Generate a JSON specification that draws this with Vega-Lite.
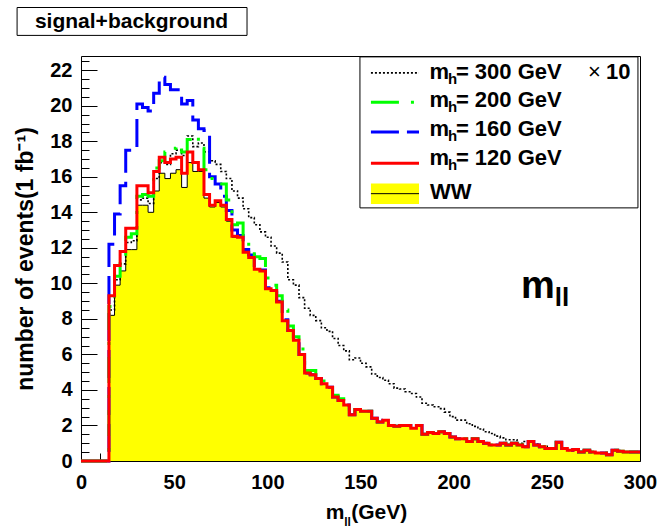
{
  "$schema": "https://vega.github.io/schema/vega-lite/v6.json",
  "width": 559,
  "height": 405,
  "autosize": {"type": "none"},
  "padding": {"left": 81, "top": 56, "right": 30, "bottom": 68},
  "background": "white",
  "config": {"view": {"stroke": "black", "strokeWidth": 1}, "font": "Liberation Sans"},
  "resolve": {"axis": {"x": "independent", "y": "independent"}},
  "data": {"values": [
    {"x": 0, "ww": 0, "h120": 0, "h160": 0, "h200": 0, "h300": 0},
    {"x": 3, "ww": 0, "h120": 0, "h160": 0, "h200": 0, "h300": 0},
    {"x": 6, "ww": 0, "h120": 0, "h160": 0, "h200": 0, "h300": 0},
    {"x": 9, "ww": 0, "h120": 0, "h160": 0, "h200": 0, "h300": 0},
    {"x": 12, "ww": 0, "h120": 0, "h160": 0, "h200": 0, "h300": 0},
    {"x": 15, "ww": 8.2, "h120": 9.3, "h160": 12.2, "h200": 8.7, "h300": 8.5},
    {"x": 18, "ww": 9.9, "h120": 11.0, "h160": 13.9, "h200": 10.4, "h300": 10.2},
    {"x": 21, "ww": 10.7, "h120": 11.8, "h160": 15.5, "h200": 11.3, "h300": 11.1},
    {"x": 24, "ww": 11.9, "h120": 13.1, "h160": 17.5, "h200": 12.6, "h300": 12.3},
    {"x": 27, "ww": 11.9, "h120": 13.1, "h160": 17.5, "h200": 12.8, "h300": 12.4},
    {"x": 30, "ww": 14.4, "h120": 15.5, "h160": 20.1, "h200": 14.9, "h300": 14.7},
    {"x": 33, "ww": 14.4, "h120": 15.5, "h160": 19.9, "h200": 15.0, "h300": 14.8},
    {"x": 36, "ww": 14.0, "h120": 15.1, "h160": 19.7, "h200": 14.9, "h300": 14.5},
    {"x": 39, "ww": 15.2, "h120": 16.3, "h160": 20.7, "h200": 16.5, "h300": 15.9},
    {"x": 42, "ww": 16.2, "h120": 17.1, "h160": 21.6, "h200": 16.9, "h300": 16.8},
    {"x": 45, "ww": 15.9, "h120": 16.8, "h160": 21.2, "h200": 17.4, "h300": 16.7},
    {"x": 48, "ww": 16.2, "h120": 17.0, "h160": 20.9, "h200": 17.6, "h300": 17.3},
    {"x": 51, "ww": 16.4, "h120": 17.1, "h160": 20.9, "h200": 17.8, "h300": 17.5},
    {"x": 54, "ww": 15.4, "h120": 16.2, "h160": 20.1, "h200": 17.4, "h300": 17.2},
    {"x": 57, "ww": 16.8, "h120": 17.4, "h160": 20.3, "h200": 18.1, "h300": 18.3},
    {"x": 60, "ww": 16.3, "h120": 16.8, "h160": 19.2, "h200": 18.3, "h300": 17.7},
    {"x": 63, "ww": 16.3, "h120": 16.4, "h160": 18.7, "h200": 17.6, "h300": 17.9},
    {"x": 66, "ww": 14.8, "h120": 15.0, "h160": 18.6, "h200": 16.4, "h300": 17.4},
    {"x": 69, "ww": 14.3, "h120": 14.4, "h160": 16.0, "h200": 15.9, "h300": 16.9},
    {"x": 72, "ww": 14.55, "h120": 14.65, "h160": 15.6, "h200": 15.6, "h300": 16.7},
    {"x": 75, "ww": 14.3, "h120": 14.4, "h160": 14.9, "h200": 15.6, "h300": 16.3},
    {"x": 78, "ww": 13.5, "h120": 13.6, "h160": 14.1, "h200": 14.7, "h300": 15.9},
    {"x": 81, "ww": 12.6, "h120": 12.65, "h160": 13.0, "h200": 13.3, "h300": 15.2},
    {"x": 84, "ww": 12.6, "h120": 12.6, "h160": 12.7, "h200": 13.4, "h300": 14.8},
    {"x": 87, "ww": 11.75, "h120": 11.75, "h160": 11.9, "h200": 12.4, "h300": 14.2},
    {"x": 90, "ww": 11.45, "h120": 11.45, "h160": 11.6, "h200": 11.9, "h300": 13.7},
    {"x": 93, "ww": 10.8, "h120": 10.8, "h160": 10.9, "h200": 11.5, "h300": 13.3},
    {"x": 96, "ww": 10.7, "h120": 10.7, "h160": 10.75, "h200": 11.4, "h300": 12.9},
    {"x": 99, "ww": 9.7, "h120": 9.7, "h160": 9.75, "h200": 10.3, "h300": 12.6},
    {"x": 102, "ww": 9.6, "h120": 9.6, "h160": 9.65, "h200": 9.9, "h300": 12.1},
    {"x": 105, "ww": 8.95, "h120": 8.95, "h160": 9.0, "h200": 9.3, "h300": 11.7},
    {"x": 108, "ww": 7.9, "h120": 7.9, "h160": 7.95, "h200": 8.5, "h300": 11.2},
    {"x": 111, "ww": 7.35, "h120": 7.35, "h160": 7.35, "h200": 7.6, "h300": 10.2},
    {"x": 114, "ww": 6.8, "h120": 6.8, "h160": 6.8, "h200": 7.0, "h300": 9.9},
    {"x": 117, "ww": 6.0, "h120": 6.0, "h160": 6.0, "h200": 6.3, "h300": 9.2},
    {"x": 120, "ww": 4.95, "h120": 4.95, "h160": 4.95, "h200": 5.1, "h300": 8.6},
    {"x": 123, "ww": 4.85, "h120": 4.85, "h160": 4.85, "h200": 5.1, "h300": 8.2},
    {"x": 126, "ww": 4.65, "h120": 4.65, "h160": 4.65, "h200": 4.8, "h300": 7.9},
    {"x": 129, "ww": 4.35, "h120": 4.35, "h160": 4.35, "h200": 4.5, "h300": 7.5},
    {"x": 132, "ww": 4.15, "h120": 4.15, "h160": 4.15, "h200": 4.3, "h300": 7.3},
    {"x": 135, "ww": 3.6, "h120": 3.6, "h160": 3.6, "h200": 3.7, "h300": 6.9},
    {"x": 138, "ww": 3.4, "h120": 3.4, "h160": 3.4, "h200": 3.5, "h300": 6.5},
    {"x": 141, "ww": 3.15, "h120": 3.15, "h160": 3.15, "h200": 3.2, "h300": 6.2},
    {"x": 144, "ww": 2.6, "h120": 2.6, "h160": 2.6, "h200": 2.6, "h300": 5.7},
    {"x": 147, "ww": 2.9, "h120": 2.9, "h160": 2.9, "h200": 2.9, "h300": 5.8},
    {"x": 150, "ww": 2.8, "h120": 2.8, "h160": 2.8, "h200": 2.8, "h300": 5.5},
    {"x": 153, "ww": 2.8, "h120": 2.8, "h160": 2.8, "h200": 2.8, "h300": 5.3},
    {"x": 156, "ww": 2.4, "h120": 2.4, "h160": 2.4, "h200": 2.4, "h300": 4.9},
    {"x": 159, "ww": 2.2, "h120": 2.2, "h160": 2.2, "h200": 2.2, "h300": 4.7},
    {"x": 162, "ww": 2.3, "h120": 2.3, "h160": 2.3, "h200": 2.3, "h300": 4.55},
    {"x": 165, "ww": 2.0, "h120": 2.0, "h160": 2.0, "h200": 2.0, "h300": 4.35},
    {"x": 168, "ww": 1.95, "h120": 1.95, "h160": 1.95, "h200": 1.95, "h300": 4.1},
    {"x": 171, "ww": 2.0, "h120": 2.0, "h160": 2.0, "h200": 2.0, "h300": 4.05},
    {"x": 174, "ww": 2.0, "h120": 2.0, "h160": 2.0, "h200": 2.0, "h300": 3.9},
    {"x": 177, "ww": 1.85, "h120": 1.85, "h160": 1.85, "h200": 1.85, "h300": 3.8},
    {"x": 180, "ww": 2.0, "h120": 2.0, "h160": 2.0, "h200": 2.0, "h300": 3.6},
    {"x": 183, "ww": 1.5, "h120": 1.5, "h160": 1.5, "h200": 1.5, "h300": 3.25},
    {"x": 186, "ww": 1.6, "h120": 1.6, "h160": 1.6, "h200": 1.6, "h300": 3.15},
    {"x": 189, "ww": 1.55, "h120": 1.55, "h160": 1.55, "h200": 1.55, "h300": 3.05},
    {"x": 192, "ww": 1.65, "h120": 1.65, "h160": 1.65, "h200": 1.65, "h300": 2.95},
    {"x": 195, "ww": 1.55, "h120": 1.55, "h160": 1.55, "h200": 1.55, "h300": 2.75},
    {"x": 198, "ww": 1.35, "h120": 1.35, "h160": 1.35, "h200": 1.35, "h300": 2.5},
    {"x": 201, "ww": 1.25, "h120": 1.25, "h160": 1.25, "h200": 1.25, "h300": 2.3},
    {"x": 204, "ww": 1.25, "h120": 1.25, "h160": 1.25, "h200": 1.25, "h300": 2.3},
    {"x": 207, "ww": 1.1, "h120": 1.1, "h160": 1.1, "h200": 1.1, "h300": 2.1},
    {"x": 210, "ww": 1.25, "h120": 1.25, "h160": 1.25, "h200": 1.25, "h300": 1.95},
    {"x": 213, "ww": 1.1, "h120": 1.1, "h160": 1.1, "h200": 1.1, "h300": 1.8},
    {"x": 216, "ww": 1.0, "h120": 1.0, "h160": 1.0, "h200": 1.0, "h300": 1.65},
    {"x": 219, "ww": 0.9, "h120": 0.9, "h160": 0.9, "h200": 0.9, "h300": 1.55},
    {"x": 222, "ww": 0.9, "h120": 0.9, "h160": 0.9, "h200": 0.9, "h300": 1.4},
    {"x": 225, "ww": 1.0, "h120": 1.0, "h160": 1.0, "h200": 1.0, "h300": 1.3},
    {"x": 228, "ww": 0.9, "h120": 0.9, "h160": 0.9, "h200": 0.9, "h300": 1.2},
    {"x": 231, "ww": 1.0, "h120": 1.0, "h160": 1.0, "h200": 1.0, "h300": 1.2},
    {"x": 234, "ww": 0.9, "h120": 0.9, "h160": 0.9, "h200": 0.9, "h300": 1.0},
    {"x": 237, "ww": 0.8, "h120": 0.8, "h160": 0.8, "h200": 0.8, "h300": 1.1},
    {"x": 240, "ww": 1.1, "h120": 1.1, "h160": 1.1, "h200": 1.1, "h300": 1.1},
    {"x": 243, "ww": 0.9, "h120": 0.9, "h160": 0.9, "h200": 0.9, "h300": 0.95},
    {"x": 246, "ww": 0.8, "h120": 0.8, "h160": 0.8, "h200": 0.8, "h300": 0.85},
    {"x": 249, "ww": 0.7, "h120": 0.7, "h160": 0.7, "h200": 0.7, "h300": 0.75},
    {"x": 252, "ww": 0.7, "h120": 0.7, "h160": 0.7, "h200": 0.7, "h300": 0.75},
    {"x": 255, "ww": 1.05, "h120": 1.05, "h160": 1.05, "h200": 1.05, "h300": 1.05},
    {"x": 258, "ww": 0.7, "h120": 0.7, "h160": 0.7, "h200": 0.7, "h300": 0.7},
    {"x": 261, "ww": 0.6, "h120": 0.6, "h160": 0.6, "h200": 0.6, "h300": 0.6},
    {"x": 264, "ww": 0.65, "h120": 0.65, "h160": 0.65, "h200": 0.65, "h300": 0.65},
    {"x": 267, "ww": 0.5, "h120": 0.5, "h160": 0.5, "h200": 0.5, "h300": 0.5},
    {"x": 270, "ww": 0.6, "h120": 0.6, "h160": 0.6, "h200": 0.6, "h300": 0.6},
    {"x": 273, "ww": 0.5, "h120": 0.5, "h160": 0.5, "h200": 0.5, "h300": 0.5},
    {"x": 276, "ww": 0.45, "h120": 0.45, "h160": 0.45, "h200": 0.45, "h300": 0.45},
    {"x": 279, "ww": 0.45, "h120": 0.45, "h160": 0.45, "h200": 0.45, "h300": 0.45},
    {"x": 282, "ww": 0.35, "h120": 0.35, "h160": 0.35, "h200": 0.35, "h300": 0.35},
    {"x": 285, "ww": 0.6, "h120": 0.6, "h160": 0.6, "h200": 0.6, "h300": 0.6},
    {"x": 288, "ww": 0.55, "h120": 0.55, "h160": 0.55, "h200": 0.55, "h300": 0.55},
    {"x": 291, "ww": 0.5, "h120": 0.5, "h160": 0.5, "h200": 0.5, "h300": 0.5},
    {"x": 294, "ww": 0.5, "h120": 0.5, "h160": 0.5, "h200": 0.5, "h300": 0.5},
    {"x": 297, "ww": 0.5, "h120": 0.5, "h160": 0.5, "h200": 0.5, "h300": 0.5},
    {"x": 300, "ww": 0.5, "h120": 0.5, "h160": 0.5, "h200": 0.5, "h300": 0.5}
  ]},
  "layer": [
    {
      "mark": {"type": "area", "interpolate": "step-after", "color": "#ffff00"},
      "encoding": {
        "x": {"field": "x", "type": "quantitative",
          "scale": {"domain": [0, 300], "nice": false, "zero": false},
          "axis": {
            "orient": "bottom",
            "values": [0, 50, 100, 150, 200, 250, 300],
            "tickSize": -16, "tickColor": "black",
            "labelOverlap": false, "labelFlush": false, "labelPadding": 27,
            "labelFontSize": 20, "labelFontWeight": "bold", "labelColor": "black", "labelFont": "Liberation Sans",
            "domain": false, "grid": false, "title": null
          }},
        "y": {"field": "ww", "type": "quantitative",
          "scale": {"domain": [0, 22.8], "nice": false, "zero": false},
          "axis": {
            "orient": "left",
            "values": [0, 2, 4, 6, 8, 10, 12, 14, 16, 18, 20, 22],
            "tickSize": -16, "tickColor": "black",
            "labelOverlap": false, "labelFlush": false, "labelPadding": 25,
            "labelFontSize": 20, "labelFontWeight": "bold", "labelColor": "black", "labelFont": "Liberation Sans",
            "domain": false, "grid": false,
            "title": "number of events(1 fb⁻¹)", "titleFontSize": 23, "titleFontWeight": "bold",
            "titleColor": "black", "titleFont": "Liberation Sans", "titlePadding": 12
          }}
      }
    },
    {
      "mark": {"type": "line", "interpolate": "step-after", "color": "black", "strokeWidth": 1},
      "encoding": {
        "x": {"field": "x", "type": "quantitative",
          "axis": {"orient": "bottom", "values": [10,20,30,40,60,70,80,90,110,120,130,140,160,170,180,190,210,220,230,240,260,270,280,290],
                   "tickSize": -8, "tickColor": "black", "labels": false, "domain": false, "grid": false, "title": null}},
        "y": {"field": "ww", "type": "quantitative",
          "axis": {"orient": "left", "values": [0.5,1,1.5,2.5,3,3.5,4.5,5,5.5,6.5,7,7.5,8.5,9,9.5,10.5,11,11.5,12.5,13,13.5,14.5,15,15.5,16.5,17,17.5,18.5,19,19.5,20.5,21,21.5,22.5],
                   "tickSize": -8, "tickColor": "black", "labels": false, "domain": false, "grid": false, "title": null}}
      }
    },
    {
      "mark": {"type": "line", "interpolate": "step-after", "color": "black", "strokeWidth": 1.6, "strokeDash": [2, 2]},
      "encoding": {"x": {"field": "x", "type": "quantitative", "axis": null}, "y": {"field": "h300", "type": "quantitative", "axis": null}}
    },
    {
      "mark": {"type": "line", "interpolate": "step-after", "color": "#0000ff", "strokeWidth": 3, "strokeDash": [28, 9]},
      "encoding": {"x": {"field": "x", "type": "quantitative", "axis": null}, "y": {"field": "h160", "type": "quantitative", "axis": null}}
    },
    {
      "mark": {"type": "line", "interpolate": "step-after", "color": "#00ff00", "strokeWidth": 3, "strokeDash": [26, 12, 3, 12]},
      "encoding": {"x": {"field": "x", "type": "quantitative", "axis": null}, "y": {"field": "h200", "type": "quantitative", "axis": null}}
    },
    {
      "mark": {"type": "line", "interpolate": "step-after", "color": "#ff0000", "strokeWidth": 3},
      "encoding": {"x": {"field": "x", "type": "quantitative", "axis": null}, "y": {"field": "h120", "type": "quantitative", "axis": null}}
    },
    {
      "data": {"values": [{}]},
      "mark": {"type": "rect", "fill": "white", "stroke": "black", "strokeWidth": 1},
      "encoding": {"x": {"datum": -34.3, "type": "quantitative", "axis": null}, "x2": {"datum": 89.1},
                   "y": {"datum": 25.53, "type": "quantitative", "axis": null}, "y2": {"datum": 23.96}}
    },
    {
      "data": {"values": [{}]},
      "mark": {"type": "text", "text": "signal+background", "font": "Liberation Sans", "fontWeight": "bold", "fontSize": 21, "align": "center", "baseline": "alphabetic", "color": "black"},
      "encoding": {"x": {"datum": 27.1, "type": "quantitative", "axis": null}, "y": {"datum": 24.35, "type": "quantitative", "axis": null}}
    },
    {
      "data": {"values": [{}]},
      "mark": {"type": "rect", "fill": "white", "stroke": "black", "strokeWidth": 1},
      "encoding": {"x": {"datum": 149.7, "type": "quantitative", "axis": null}, "x2": {"datum": 298.9},
                   "y": {"datum": 22.75, "type": "quantitative", "axis": null}, "y2": {"datum": 14.25}}
    },
    {
      "data": {"values": [{}]},
      "mark": {"type": "rule", "color": "black", "strokeWidth": 1.6, "strokeDash": [2, 2]},
      "encoding": {"x": {"datum": 155.6, "type": "quantitative", "axis": null}, "x2": {"datum": 181.4},
                   "y": {"datum": 21.85, "type": "quantitative", "axis": null}}
    },
    {
      "data": {"values": [{}]},
      "mark": {"type": "rule", "color": "#00ff00", "strokeWidth": 3, "strokeDash": [28, 12, 3, 12]},
      "encoding": {"x": {"datum": 155.6, "type": "quantitative", "axis": null}, "x2": {"datum": 181.4},
                   "y": {"datum": 20.2, "type": "quantitative", "axis": null}}
    },
    {
      "data": {"values": [{}]},
      "mark": {"type": "rule", "color": "#0000ff", "strokeWidth": 3, "strokeDash": [28, 8]},
      "encoding": {"x": {"datum": 155.6, "type": "quantitative", "axis": null}, "x2": {"datum": 181.4},
                   "y": {"datum": 18.52, "type": "quantitative", "axis": null}}
    },
    {
      "data": {"values": [{}]},
      "mark": {"type": "rule", "color": "#ff0000", "strokeWidth": 3},
      "encoding": {"x": {"datum": 155.6, "type": "quantitative", "axis": null}, "x2": {"datum": 181.4},
                   "y": {"datum": 16.76, "type": "quantitative", "axis": null}}
    },
    {
      "data": {"values": [{}]},
      "mark": {"type": "rect", "fill": "#ffff00"},
      "encoding": {"x": {"datum": 155.6, "type": "quantitative", "axis": null}, "x2": {"datum": 181.4},
                   "y": {"datum": 15.62, "type": "quantitative", "axis": null}, "y2": {"datum": 14.47}}
    },
    {
      "data": {"values": [{}]},
      "mark": {"type": "rule", "color": "black", "strokeWidth": 1},
      "encoding": {"x": {"datum": 155.6, "type": "quantitative", "axis": null}, "x2": {"datum": 181.4},
                   "y": {"datum": 15.05, "type": "quantitative", "axis": null}}
    },
    {
      "data": {"values": [{}]},
      "mark": {"type": "text", "text": ["m", "m", "m", "m"], "lineHeight": 28.9, "font": "Liberation Sans", "fontWeight": "bold", "fontSize": 22, "align": "left", "baseline": "alphabetic", "color": "black"},
      "encoding": {"x": {"datum": 187.0, "type": "quantitative", "axis": null}, "y": {"datum": 21.53, "type": "quantitative", "axis": null}}
    },
    {
      "data": {"values": [{}]},
      "mark": {"type": "text", "text": ["h", "h", "h", "h"], "lineHeight": 28.9, "font": "Liberation Sans", "fontWeight": "bold", "fontSize": 15, "align": "left", "baseline": "alphabetic", "color": "black"},
      "encoding": {"x": {"datum": 196.9, "type": "quantitative", "axis": null}, "y": {"datum": 21.25, "type": "quantitative", "axis": null}}
    },
    {
      "data": {"values": [{}]},
      "mark": {"type": "text", "text": ["= 300 GeV", "= 200 GeV", "= 160 GeV", "= 120 GeV"], "lineHeight": 28.9, "font": "Liberation Sans", "fontWeight": "bold", "fontSize": 22, "align": "left", "baseline": "alphabetic", "color": "black"},
      "encoding": {"x": {"datum": 201.2, "type": "quantitative", "axis": null}, "y": {"datum": 21.53, "type": "quantitative", "axis": null}}
    },
    {
      "data": {"values": [{}]},
      "mark": {"type": "text", "text": "WW", "font": "Liberation Sans", "fontWeight": "bold", "fontSize": 22, "align": "left", "baseline": "alphabetic", "color": "black"},
      "encoding": {"x": {"datum": 187.3, "type": "quantitative", "axis": null}, "y": {"datum": 14.74, "type": "quantitative", "axis": null}}
    },
    {
      "data": {"values": [{}]},
      "mark": {"type": "text", "text": "×", "font": "Liberation Sans", "fontWeight": "normal", "fontSize": 22, "align": "left", "baseline": "alphabetic", "color": "black"},
      "encoding": {"x": {"datum": 272.1, "type": "quantitative", "axis": null}, "y": {"datum": 21.53, "type": "quantitative", "axis": null}}
    },
    {
      "data": {"values": [{}]},
      "mark": {"type": "text", "text": "10", "font": "Liberation Sans", "fontWeight": "bold", "fontSize": 22, "align": "left", "baseline": "alphabetic", "color": "black"},
      "encoding": {"x": {"datum": 281.8, "type": "quantitative", "axis": null}, "y": {"datum": 21.53, "type": "quantitative", "axis": null}}
    },
    {
      "data": {"values": [{}]},
      "mark": {"type": "text", "text": "m", "font": "Liberation Sans", "fontWeight": "bold", "fontSize": 38, "align": "left", "baseline": "alphabetic", "color": "black"},
      "encoding": {"x": {"datum": 236.1, "type": "quantitative", "axis": null}, "y": {"datum": 9.2, "type": "quantitative", "axis": null}}
    },
    {
      "data": {"values": [{}]},
      "mark": {"type": "text", "text": "ll", "font": "Liberation Sans", "fontWeight": "bold", "fontSize": 26, "align": "left", "baseline": "alphabetic", "color": "black"},
      "encoding": {"x": {"datum": 254.3, "type": "quantitative", "axis": null}, "y": {"datum": 8.7, "type": "quantitative", "axis": null}}
    },
    {
      "data": {"values": [{}]},
      "mark": {"type": "text", "text": "m", "font": "Liberation Sans", "fontWeight": "bold", "fontSize": 21, "align": "left", "baseline": "alphabetic", "color": "black"},
      "encoding": {"x": {"datum": 131.3, "type": "quantitative", "axis": null}, "y": {"datum": -3.25, "type": "quantitative", "axis": null}}
    },
    {
      "data": {"values": [{}]},
      "mark": {"type": "text", "text": "ll", "font": "Liberation Sans", "fontWeight": "bold", "fontSize": 12, "align": "left", "baseline": "alphabetic", "color": "black"},
      "encoding": {"x": {"datum": 141.3, "type": "quantitative", "axis": null}, "y": {"datum": -3.65, "type": "quantitative", "axis": null}}
    },
    {
      "data": {"values": [{}]},
      "mark": {"type": "text", "text": "(GeV)", "font": "Liberation Sans", "fontWeight": "bold", "fontSize": 21, "align": "left", "baseline": "alphabetic", "color": "black"},
      "encoding": {"x": {"datum": 145.0, "type": "quantitative", "axis": null}, "y": {"datum": -3.25, "type": "quantitative", "axis": null}}
    }
  ]
}
